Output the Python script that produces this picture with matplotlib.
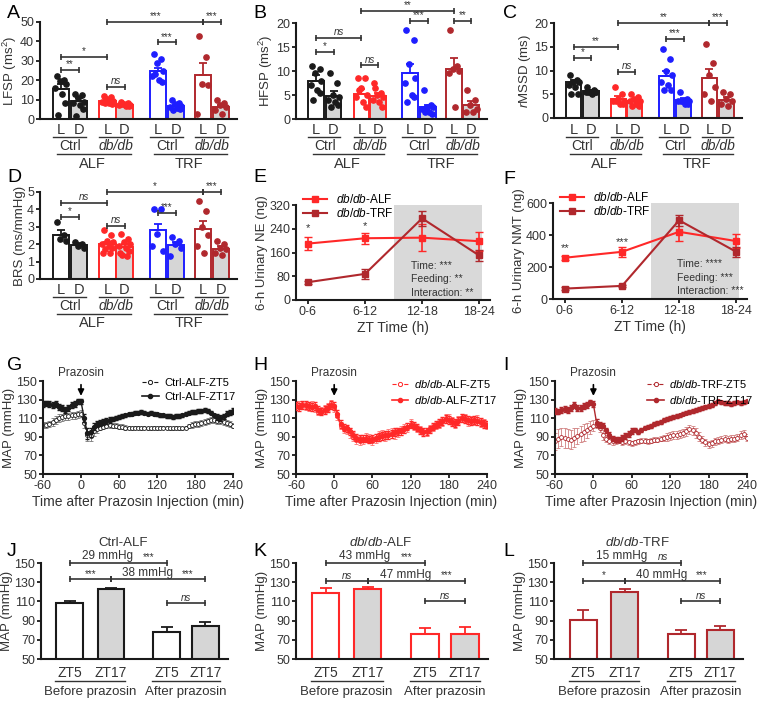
import numpy as np
import matplotlib
matplotlib.use('Agg')
import matplotlib.pyplot as plt
from matplotlib import transforms
from matplotlib.lines import Line2D

plt.rcParams['font.family'] = 'Liberation Sans'
plt.rcParams['mathtext.fontset'] = 'custom'
plt.rcParams['mathtext.rm'] = 'Liberation Sans'
plt.rcParams['mathtext.it'] = 'Liberation Sans:italic'
plt.rcParams['axes.unicode_minus'] = False

# ---------------- data ----------------
# A-D : L/D bars, groups Ctrl-ALF, db/db-ALF, Ctrl-TRF, db/db-TRF
A_mean = [15.5, 9.5, 9.5, 7.3, 24.5, 6.6, 22.6, 6.1]
A_sem = [2.5, 1.3, 0.8, 0.5, 1.8, 0.6, 6.5, 1.2]
A_pts = [[22, 20, 19.5, 18, 16, 13, 8.5, 2],
         [13, 12.5, 11, 9, 8, 7, 5, 1.5],
         [12, 11.5, 10.5, 9.5, 9, 8, 7.5, 8.5],
         [9, 8.5, 7.5, 7, 7, 6.5, 6.5, 7.5],
         [33.5, 31, 29, 25, 22, 20, 19, 23],
         [10, 8, 7.5, 6.5, 6, 5.5, 5, 4.5],
         [43, 32, 18, 17.5, 2.5],
         [10, 8, 7, 6, 4.5, 2.5]]
A_br = [(0, 1, 25.5, '**'), (0, 2, 32, '*'), (2, 3, 16.7, 'ns'),
        (4, 5, 39.5, '***'), (6, 7, 50, '***'), (2, 6, 50, '***')]

B_mean = [8.0, 4.8, 5.3, 4.8, 9.5, 2.5, 10.5, 3.0]
B_sem = [1.2, 1.0, 1.0, 0.6, 2.0, 0.5, 2.2, 0.8]
B_pts = [[11, 10.5, 9.5, 8, 7, 6, 5.5, 4],
         [9.5, 7.5, 5, 4.5, 4, 3.5, 3, 2.5],
         [8.5, 8.5, 6.5, 5, 4.5, 3.5, 2.5, 6],
         [7.5, 5.5, 5, 4.5, 4, 3.5, 2.5, 6.5],
         [18.5, 16.5, 11.5, 8.5, 7.5, 5, 4.5, 3.5],
         [6, 3, 2.5, 2.5, 2, 1.5, 1, 1.5],
         [18.5, 11, 10.5, 10, 9.5, 2.5],
         [6, 4, 3, 2, 1.5, 1.5]]
B_br = [(0, 1, 14, '*'), (0, 2, 16.9, 'ns'), (2, 3, 11.2, 'ns'),
        (4, 5, 20.4, '***'), (6, 7, 20.4, '**'), (2, 6, 22.5, '**')]

C_mean = [7.5, 5.6, 4.0, 3.5, 8.8, 3.8, 8.5, 3.8]
C_sem = [0.5, 0.3, 0.6, 0.4, 1.1, 0.4, 1.8, 0.6]
C_pts = [[9, 8, 7.5, 7.5, 7, 6.5, 5, 5],
         [6.5, 6, 5.5, 5.5, 5.5, 5, 5.5, 5.5],
         [6.5, 5, 4, 3.5, 3.5, 3, 3, 3.5],
         [5, 4.5, 4, 3.5, 3.5, 3, 2.5, 2.5],
         [14.5, 12.5, 10, 9, 7.5, 7, 6, 6],
         [5.5, 4, 3.5, 3.5, 3.5, 3, 3, 3.5],
         [15.5, 11.5, 9, 6.5, 5, 3.5],
         [5.5, 5, 4, 3.5, 3, 2.5]]
C_br = [(0, 1, 12.6, '*'), (0, 2, 15, '**'), (2, 3, 9.7, 'ns'),
        (4, 5, 16.6, '***'), (6, 7, 20, '***'), (2, 6, 20, '**')]

D_mean = [2.55, 1.95, 2.0, 1.85, 2.8, 1.95, 2.9, 1.75]
D_sem = [0.25, 0.1, 0.15, 0.15, 0.35, 0.2, 0.45, 0.15]
D_pts = [[3.3, 2.5, 2.3, 2.2],
         [2.1, 2.0, 1.9, 1.8],
         [2.8, 2.5, 2.2, 2.1, 2.0, 1.9, 1.8, 1.7, 1.5, 1.5],
         [2.6, 2.3, 2.1, 2.0, 1.9, 1.8, 1.6, 1.4, 1.3, 1.5],
         [4.0, 4.0, 2.6, 1.6, 1.9],
         [2.4, 2.2, 2.0, 1.8, 1.3],
         [4.5, 3.9, 3.0, 2.5, 1.9, 1.5],
         [2.2, 2.0, 1.8, 1.7, 1.5, 1.4]]
D_br = [(0, 1, 3.56, '*'), (0, 2, 4.37, 'ns'), (2, 3, 3.05, 'ns'),
        (4, 5, 3.8, '***'), (6, 7, 5.0, '***'), (2, 6, 5.0, '*')]

# E, F : urinary excretion
zt_labels = ['0-6', '6-12', '12-18', '18-24']
E_alf = [190, 208, 210, 198]
E_alf_err = [22, 18, 45, 32]
E_trf = [60, 88, 275, 150]
E_trf_err = [5, 16, 25, 18]
F_alf = [258, 295, 420, 362]
F_alf_err = [12, 30, 60, 45]
F_trf = [65, 82, 492, 295]
F_trf_err = [8, 8, 35, 30]

# G, H, I : MAP time course, 5-min bins from -60 to 240 min
T = np.arange(-60, 241, 5)
G17 = [125, 126, 125, 124, 125, 122, 121, 119, 121, 124, 125, 128, 128,
       110, 94, 95, 101, 104, 105, 106, 107, 108, 109, 110, 111,
       112, 113, 114, 115, 116, 116, 117, 116, 115, 116, 115, 114,
       113, 113, 112, 112, 111, 112, 112, 113, 115, 116, 117, 117,
       118, 118, 119, 118, 116, 113, 111, 110, 112, 115, 116, 118]
G17e = [3, 3, 3, 3, 3, 3, 3, 3, 3, 3, 3, 3, 3,
        4, 6, 5, 4, 3, 3, 3, 3, 3, 2, 2, 2,
        2, 2, 2, 2, 2, 2, 2, 2, 2, 2, 2, 2,
        2, 2, 2, 2, 2, 2, 2, 2, 2, 2, 2, 2,
        2, 2, 2, 2, 2, 2, 3, 3, 3, 3, 3, 3]
G5 = [103, 103, 104, 106, 108, 110, 111, 112, 112, 113, 113, 114, 115,
      105, 92, 91, 96, 98, 100, 101, 102, 103, 102, 102, 101,
      101, 100, 100, 99, 100, 100, 99, 100, 99, 99, 100, 99,
      100, 100, 100, 99, 99, 100, 99, 99, 100, 102, 103, 104,
      104, 105, 106, 107, 108, 108, 107, 107, 106, 105, 104, 102]
G5e = [3, 3, 3, 4, 4, 4, 4, 4, 4, 4, 4, 4, 4,
       5, 7, 6, 5, 4, 3, 3, 3, 3, 3, 3, 3,
       3, 3, 2, 2, 2, 2, 2, 2, 2, 2, 2, 2,
       2, 2, 2, 2, 2, 2, 2, 2, 2, 2, 3, 3,
       3, 3, 3, 3, 3, 3, 3, 3, 3, 3, 3, 3]
H17 = [123, 122, 124, 124, 123, 122, 123, 119, 117, 119, 121, 124, 123,
       115, 104, 100, 99, 96, 92, 89, 88, 88, 88, 87, 88,
       89, 90, 91, 92, 92, 93, 95, 96, 96, 98, 101, 103,
       102, 100, 97, 95, 96, 98, 101, 103, 105, 107, 109, 108,
       106, 105, 107, 110, 109, 108, 107, 108, 107, 106, 104, 103]
H17e = [4, 4, 4, 4, 4, 4, 4, 4, 4, 4, 4, 4, 4,
        4, 4, 4, 4, 4, 4, 4, 4, 4, 4, 4, 4,
        4, 4, 4, 4, 4, 4, 4, 4, 4, 4, 4, 4,
        4, 4, 4, 4, 4, 4, 4, 4, 4, 4, 4, 4,
        4, 4, 4, 4, 4, 4, 4, 4, 4, 4, 4, 4]
H5 = [125, 124, 125, 123, 122, 124, 121, 117, 118, 120, 122, 126, 121,
      112, 102, 98, 97, 94, 90, 87, 86, 87, 89, 88, 86,
      88, 91, 92, 90, 93, 94, 93, 95, 97, 99, 100, 104,
      101, 99, 98, 96, 95, 99, 100, 102, 104, 106, 110, 110,
      107, 104, 108, 111, 110, 106, 108, 107, 109, 105, 105, 102]
H5e = [4, 4, 4, 4, 4, 4, 4, 4, 4, 4, 4, 4, 4,
       4, 4, 4, 4, 5, 5, 5, 5, 5, 5, 5, 5,
       5, 5, 5, 5, 5, 5, 5, 5, 5, 5, 5, 5,
       4, 4, 4, 4, 4, 4, 4, 4, 4, 4, 4, 4,
       4, 4, 4, 4, 4, 4, 4, 4, 4, 4, 4, 4]
I17 = [118, 117, 119, 120, 119, 121, 124, 121, 121, 123, 124, 127, 125,
       105, 103, 102, 97, 92, 88, 87, 87, 89, 91, 93, 96,
       97, 95, 97, 100, 101, 102, 104, 105, 106, 108, 109, 110,
       111, 112, 113, 115, 116, 117, 118, 119, 120, 121, 122, 123,
       124, 126, 128, 127, 126, 126, 125, 126, 127, 126, 127, 128]
I17e = [3, 3, 3, 3, 3, 3, 3, 3, 3, 3, 3, 3, 3,
        4, 3, 3, 3, 3, 3, 3, 3, 3, 3, 3, 3,
        2, 2, 2, 2, 2, 2, 2, 2, 2, 2, 2, 2,
        2, 2, 2, 2, 2, 2, 2, 2, 2, 2, 2, 2,
        2, 2, 2, 2, 2, 2, 2, 2, 2, 2, 2, 2]
I5 = [85, 88, 90, 89, 88, 87, 89, 91, 93, 95, 97, 100, 102,
      104, 100, 92, 88, 86, 85, 85, 86, 84, 85, 84, 83,
      84, 85, 86, 86, 85, 86, 87, 87, 88, 89, 90, 91,
      92, 92, 93, 94, 96, 98, 97, 94, 90, 87, 84, 82,
      83, 85, 86, 87, 88, 87, 88, 88, 89, 92, 93, 89]
I5e = [9, 10, 10, 11, 10, 10, 10, 9, 9, 9, 8, 7, 6,
       5, 5, 5, 4, 4, 4, 3, 3, 3, 3, 3, 3,
       3, 3, 3, 3, 3, 3, 3, 3, 3, 3, 4, 4,
       4, 4, 4, 4, 5, 5, 5, 5, 5, 4, 4, 4,
       4, 4, 4, 4, 4, 4, 4, 4, 4, 4, 4, 4]

# J, K, L : MAP before / after prazosin (ZT5, ZT17, ZT5, ZT17)
J_mean = [108, 122.5, 78, 84]
J_sem = [2.5, 1.5, 5, 4.5]
K_mean = [119, 123, 76, 76]
K_sem = [5, 2.5, 6.5, 7.5]
L_mean = [91, 120, 76, 80]
L_sem = [10, 2.5, 4.5, 4.5]

# ---------------- style ----------------
W, H = 757, 703
BLK = '#1a1a1a'
RED = '#ff2828'
BLUE = '#1e1eff'
DRED = '#b0282d'
GRAY = '#d6d6d6'
TXT = '#333333'
SPINE = '#1a1a1a'

fig = plt.figure(figsize=(W / 100, H / 100), dpi=100)


def px_axes(l, t, r, b):
    return fig.add_axes([l / W, 1 - b / H, (r - l) / W, (b - t) / H])


def fy(py):
    return 1 - py / H


def style_ax(ax):
    for s in ['top', 'right']:
        ax.spines[s].set_visible(False)
    for s in ['left', 'bottom']:
        ax.spines[s].set_linewidth(1.5)
        ax.spines[s].set_color(SPINE)
    ax.tick_params(labelsize=9, length=3, width=1.3, colors=SPINE, labelcolor=TXT, pad=1.2)


def bracket(ax, x0, x1, y, lab, color=TXT, fs=7):
    ax.plot([x0, x1], [y, y], color=color, lw=1.2, clip_on=False, zorder=5)
    ax.plot([x0, x1], [y, y], '|', color=color, ms=5, mew=1.2, clip_on=False, zorder=5)
    if lab:
        ax.annotate(lab, ((x0 + x1) / 2, y), xytext=(0, 0.5), textcoords='offset points',
                    ha='center', va='bottom', fontsize=fs, color=TXT,
                    style='italic' if lab == 'ns' else 'normal', annotation_clip=False)


def panel_letter(x, y, s):
    fig.text(x / W, fy(y), s, fontsize=14, ha='left', va='center', color='black')


POS8 = [0, 1, 2.6, 3.55, 5.4, 6.4, 7.9, 8.9]
COL8 = [BLK, BLK, RED, RED, BLUE, BLUE, DRED, DRED]
FILL8 = ['white', GRAY] * 4
# horizontal scatter pattern for the dots inside a bar
SWARM = [-0.22, 0.2, -0.05, 0.3, -0.3, 0.08, 0.24, -0.16, 0.12, -0.26]


def ld_panel(ax, means, sems, pts, brs, ymax, step, ylabel, rows):
    style_ax(ax)
    ax.bar(POS8, means, width=0.9, color=FILL8, edgecolor=COL8, linewidth=1.4, zorder=2)
    for i in range(8):
        ax.errorbar(POS8[i], means[i], yerr=[[0], [sems[i]]], fmt='none', ecolor=COL8[i],
                    elinewidth=1.3, capsize=3, capthick=1.3, zorder=2)
        n = len(pts[i])
        offs = np.array(SWARM[:n])
        ax.plot(POS8[i] + offs, pts[i], 'o', color=COL8[i], ms=3.8, zorder=4, clip_on=False)
    for a, b, y, lab in brs:
        bracket(ax, POS8[a], POS8[b], y, lab)
    ax.set_xlim(-1.15, 9.8)
    ax.set_ylim(0, ymax)
    ax.set_yticks(np.arange(0, ymax + step / 2, step))
    ax.set_xticks([])
    ax.set_ylabel(ylabel, fontsize=9.5, color=TXT, labelpad=1)
    tr = transforms.blended_transform_factory(ax.transData, fig.transFigure)
    y1, l1, y2, l2, y3 = rows
    for i, p in enumerate(POS8):
        ax.text(p, fy(y1), 'L' if i % 2 == 0 else 'D', transform=tr, ha='center', va='center',
                fontsize=10.5, color=TXT)
    for k in range(4):
        a, b = POS8[2 * k], POS8[2 * k + 1]
        ax.plot([a - 0.45, b + 0.4], [fy(l1)] * 2, transform=tr, color=TXT, lw=1, clip_on=False)
        ax.text((a + b) / 2, fy(y2), ['Ctrl', 'db/db'][k % 2], transform=tr, ha='center',
                va='center', fontsize=10, color=TXT, style='normal' if k % 2 == 0 else 'italic')
    for g in range(2):
        a, b = POS8[4 * g], POS8[4 * g + 3]
        ax.plot([a - 0.2, b + 0.35], [fy(l2)] * 2, transform=tr, color=TXT, lw=1, clip_on=False)
        ax.text((a + b) / 2, fy(y3), ['ALF', 'TRF'][g], transform=tr, ha='center', va='center',
                fontsize=10.5, color=TXT)


rowsTop = (130, 137, 146, 154, 164)
rowsD = (290, 297, 306, 314, 323)

axA = px_axes(40, 22, 237, 119)
ld_panel(axA, A_mean, A_sem, A_pts, A_br, 50, 10, 'LFSP (ms$^2$)', rowsTop)
axB = px_axes(296, 23, 487, 119)
ld_panel(axB, B_mean, B_sem, B_pts, B_br, 20, 5, 'HFSP (ms$^2$)', rowsTop)
axC = px_axes(554, 23, 742, 118)
ld_panel(axC, C_mean, C_sem, C_pts, C_br, 20, 5, '$\\it{r}$MSSD (ms)', rowsTop)
axD = px_axes(40, 192, 237, 279)
ld_panel(axD, D_mean, D_sem, D_pts, D_br, 5, 1, 'BRS (ms/mmHg)', rowsD)


def urine_panel(ax, alf, alf_e, trf, trf_e, ymax, step, ylabel, stars, txt, txt_pos):
    style_ax(ax)
    x = np.arange(4)
    ax.axvspan(1.5, 3.05, ymax=1.0, color='#d9d9d9', zorder=0, lw=0)
    ax.errorbar(x, alf, yerr=alf_e, color=RED, marker='s', ms=5, lw=1.5, capsize=3,
                elinewidth=1.2, zorder=3, clip_on=False)
    ax.errorbar(x, trf, yerr=trf_e, color=DRED, marker='s', ms=5, lw=1.5, capsize=3,
                elinewidth=1.2, zorder=3, clip_on=False)
    for xi, yi, s in stars:
        ax.text(xi, yi, s, ha='center', va='center', fontsize=8, color=TXT)
    ax.text(txt_pos[0], txt_pos[1], txt, ha='left', va='top', fontsize=7.5, color=TXT,
            linespacing=1.45)
    ax.set_xlim(-0.21, 3.19)
    ax.set_ylim(0, ymax)
    ax.set_yticks(np.arange(0, ymax + step / 2, step))
    ax.set_xticks(x)
    ax.set_xticklabels(zt_labels)
    ax.set_xlabel('ZT Time (h)', fontsize=10, color=TXT, labelpad=2)
    ax.set_ylabel(ylabel, fontsize=9.5, color=TXT, labelpad=1)
    hs = [Line2D([], [], color=RED, marker='s', ms=5, lw=1.5),
          Line2D([], [], color=DRED, marker='s', ms=5, lw=1.5)]
    ax.legend(hs, ['$\\it{db/db}$-ALF', '$\\it{db/db}$-TRF'], loc='upper left',
              bbox_to_anchor=(0.0, 1.2), frameon=False, fontsize=8.5, handlelength=2.0,
              labelspacing=0.1, borderpad=0.1)


axE = px_axes(296, 205, 490, 300)
urine_panel(axE, E_alf, E_alf_err, E_trf, E_trf_err, 320, 80, '6-h Urinary NE (ng)',
            [(0, 242, '*'), (1, 248, '*')], 'Time: ***\nFeeding: **\nInteraction: **', (1.8, 132))
axF = px_axes(553, 203, 747, 299)
urine_panel(axF, F_alf, F_alf_err, F_trf, F_trf_err, 600, 200, '6-h Urinary NMT (ng)',
            [(0, 318, '**'), (1, 355, '***')], 'Time: ****\nFeeding: ***\nInteraction: ***',
            (1.97, 250))


def map_panel(ax, m5, e5, m17, e17, color, lab5, lab17, ecol5, lx):
    style_ax(ax)
    ax.errorbar(T, m5, yerr=e5, fmt='o', ls='--', lw=0.8, color=color, ms=2.8, mfc='white',
                mec=color, mew=0.6, ecolor=ecol5, elinewidth=0.6, capsize=1.2, zorder=2)
    ax.errorbar(T, m17, yerr=e17, fmt='o', ls='-', lw=1.0, color=color, ms=2.8,
                ecolor=color, elinewidth=0.6, capsize=1.2, zorder=3)
    ax.set_xlim(-60, 240)
    ax.set_ylim(50, 150)
    ax.set_yticks(np.arange(50, 151, 20))
    ax.set_xticks(np.arange(-60, 241, 60))
    ax.set_xlabel('Time after Prazosin Injection (min)', fontsize=10, color=TXT, labelpad=2)
    ax.set_ylabel('MAP (mmHg)', fontsize=9.5, color=TXT, labelpad=1)
    ax.annotate('', xy=(0, 131), xytext=(0, 149), annotation_clip=False,
                arrowprops=dict(arrowstyle='-|>', color='black', lw=1.2, mutation_scale=9))
    ax.text(0, 152, 'Prazosin', ha='center', va='bottom', fontsize=8.5, color=TXT, clip_on=False)
    hs = [Line2D([], [], color=color, ls='--', lw=0.8, marker='o', ms=3, mfc='white', mew=0.7),
          Line2D([], [], color=color, ls='-', lw=1.2, marker='o', ms=3)]
    ax.legend(hs, [lab5, lab17], loc='upper left', bbox_to_anchor=(lx, 1.12), frameon=False,
              fontsize=8, handlelength=1.5, labelspacing=0.35, borderpad=0.2, handletextpad=0.5)


axG = px_axes(43, 381, 233, 474)
map_panel(axG, G5, G5e, G17, G17e, BLK, 'Ctrl-ALF-ZT5', 'Ctrl-ALF-ZT17', '#777777', 0.48)
axH = px_axes(296, 381, 487, 474)
map_panel(axH, H5, H5e, H17, H17e, RED, '$\\it{db/db}$-ALF-ZT5', '$\\it{db/db}$-ALF-ZT17',
          '#ff7070', 0.46)
axI = px_axes(555, 381, 747, 474)
map_panel(axI, I5, I5e, I17, I17e, DRED, '$\\it{db/db}$-TRF-ZT5', '$\\it{db/db}$-TRF-ZT17',
          '#d08080', 0.44)

POS4 = [0, 1, 2.36, 3.3]


def pz_panel(ax, means, sems, color, title, brs):
    style_ax(ax)
    ax.bar(POS4, means, width=0.65, color=['white', GRAY, 'white', GRAY], edgecolor=color,
           linewidth=1.5, zorder=2)
    ax.errorbar(POS4, means, yerr=[[0] * 4, sems], fmt='none', ecolor=color, elinewidth=1.3,
                capsize=4, capthick=1.3, zorder=2)
    for a, b, y, t1, t2 in brs:
        x0, x1 = POS4[a], POS4[b]
        bracket(ax, x0, x1, y, '' if t1 else t2)
        if t1:
            ax.annotate(t1, (x0 + 0.39 * (x1 - x0), y), xytext=(0, 0.5), textcoords='offset points',
                        ha='center', va='bottom', fontsize=8.5, color=TXT, annotation_clip=False)
            ax.annotate(t2, (x0 + 0.81 * (x1 - x0), y), xytext=(0, 0.5), textcoords='offset points',
                        ha='center', va='bottom', fontsize=7, color=TXT, annotation_clip=False,
                        style='italic' if t2 == 'ns' else 'normal')
    ax.set_xlim(-0.7, 3.85)
    ax.set_ylim(50, 150)
    ax.set_yticks(np.arange(50, 151, 20))
    ax.set_xticks([])
    ax.set_ylabel('MAP (mmHg)', fontsize=9.5, color=TXT, labelpad=1)
    tr = transforms.blended_transform_factory(ax.transData, fig.transFigure)
    ax.text(1.3, fy(543), title, transform=tr, ha='center', va='center', fontsize=9.5, color=TXT)
    for i, p in enumerate(POS4):
        ax.text(p, fy(673), ['ZT5', 'ZT17'][i % 2], transform=tr, ha='center', va='center',
                fontsize=10, color=TXT)
    for g, lab in enumerate(['Before prazosin', 'After prazosin']):
        a, b = POS4[2 * g], POS4[2 * g + 1]
        ax.plot([a - 0.35, b + 0.35], [fy(681)] * 2, transform=tr, color=TXT, lw=1, clip_on=False)
        ax.text((a + b) / 2, fy(692), lab, transform=tr, ha='center', va='center', fontsize=9.5,
                color=TXT)


axJ = px_axes(41, 563, 228, 659)
pz_panel(axJ, J_mean, J_sem, BLK, 'Ctrl-ALF',
         [(0, 1, 133, '', '***'), (0, 2, 150, '29 mmHg', '***'), (1, 3, 133, '38 mmHg', '***'),
          (2, 3, 108, '', 'ns')])
axK = px_axes(296, 563, 488, 659)
pz_panel(axK, K_mean, K_sem, RED, '$\\it{db/db}$-ALF',
         [(0, 1, 131, '', 'ns'), (0, 2, 150, '43 mmHg', '***'), (1, 3, 131, '47 mmHg', '***'),
          (2, 3, 110, '', 'ns')])
axL = px_axes(554, 563, 743, 659)
pz_panel(axL, L_mean, L_sem, DRED, '$\\it{db/db}$-TRF',
         [(0, 1, 131, '', '*'), (0, 2, 150, '15 mmHg', 'ns'), (1, 3, 131, '40 mmHg', '***'),
          (2, 3, 110, '', 'ns')])

for x, y, s in [(7, 13, 'A'), (253, 13, 'B'), (503, 13, 'C'),
                (7, 178, 'D'), (253, 178, 'E'), (503, 180, 'F'),
                (7, 366, 'G'), (253, 366, 'H'), (503, 366, 'I'),
                (7, 552, 'J'), (253, 552, 'K'), (503, 552, 'L')]:
    panel_letter(x, y, s)

fig.savefig('out.png', dpi=100)
